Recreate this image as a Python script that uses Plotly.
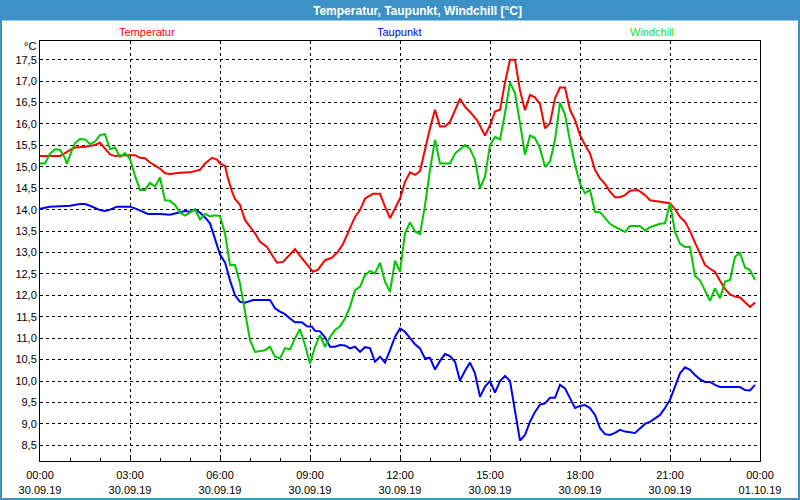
import plotly.graph_objects as go

# ---- data (time in minutes after 30.09.19 00:00) ----
temp_min = [0, 20, 40, 60, 70, 90, 110, 120, 130, 140,
            150, 170, 190, 200, 210, 220, 240, 250, 260, 280,
            300, 320, 330, 344, 354, 360, 370, 376, 384, 390,
            400, 410, 420, 430, 440, 454, 464, 474, 486, 500,
            510, 520, 530, 546, 556, 570, 584, 596, 606, 616,
            630, 640, 650, 666, 680, 690, 700, 720, 730, 740,
            750, 760, 770, 780, 790, 800, 810, 820, 840, 850,
            860, 874, 890, 900, 910, 920, 930, 940, 950, 960,
            970, 980, 990, 1000, 1010, 1020, 1030, 1040, 1050, 1060,
            1070, 1080, 1090, 1100, 1110, 1120, 1130, 1140, 1150, 1160,
            1170, 1180, 1196, 1210, 1220, 1240, 1260, 1270, 1280, 1290,
            1300, 1310, 1320, 1330, 1340, 1350, 1360, 1370, 1380, 1390,
            1400, 1410, 1420, 1430]
temperatur = [15.25, 15.25, 15.25, 15.39, 15.45, 15.47, 15.51, 15.56, 15.43, 15.29,
              15.25, 15.27, 15.27, 15.21, 15.20, 15.10, 14.96, 14.85, 14.83, 14.86,
              14.87, 14.93, 15.08, 15.21, 15.17, 15.08, 15.02, 14.73, 14.42, 14.25,
              14.11, 13.76, 13.60, 13.45, 13.25, 13.13, 12.94, 12.76, 12.78, 12.96,
              13.08, 12.92, 12.78, 12.55, 12.60, 12.82, 12.88, 13.02, 13.20, 13.45,
              13.83, 13.99, 14.26, 14.37, 14.37, 14.07, 13.80, 14.26, 14.65, 14.87,
              14.81, 14.90, 15.42, 15.90, 16.33, 15.94, 15.94, 16.05, 16.59, 16.40,
              16.28, 16.09, 15.73, 15.97, 16.29, 16.33, 16.97, 17.50, 17.50, 16.78,
              16.32, 16.68, 16.62, 16.46, 15.90, 16.02, 16.60, 16.85, 16.85, 16.33,
              16.09, 15.74, 15.51, 15.31, 14.93, 14.73, 14.60, 14.42, 14.29, 14.29,
              14.34, 14.44, 14.46, 14.34, 14.22, 14.19, 14.15, 14.01, 13.83, 13.72,
              13.50, 13.23, 12.96, 12.71, 12.62, 12.55, 12.34, 12.15, 12.02, 11.97,
              11.95, 11.83, 11.73, 11.83]

taup_min = [0, 20, 40, 60, 80, 90, 100, 120, 130, 140,
            154, 180, 190, 200, 216, 240, 260, 280, 290, 300,
            310, 320, 330, 340, 350, 360, 370, 380, 390, 400,
            410, 426, 460, 470, 480, 490, 500, 510, 524, 534,
            544, 550, 560, 570, 580, 590, 600, 610, 620, 630,
            640, 650, 660, 670, 680, 690, 700, 710, 720, 730,
            740, 750, 760, 770, 780, 790, 800, 810, 820, 830,
            840, 850, 860, 870, 880, 890, 900, 910, 920, 930,
            940, 946, 954, 960, 970, 980, 990, 1000, 1010, 1020,
            1030, 1040, 1050, 1060, 1070, 1080, 1090, 1100, 1110, 1120,
            1130, 1140, 1150, 1160, 1170, 1190, 1200, 1210, 1220, 1230,
            1240, 1250, 1260, 1270, 1280, 1290, 1300, 1310, 1320, 1330,
            1340, 1350, 1360, 1400, 1410, 1420, 1430]
taupunkt = [14.02, 14.07, 14.08, 14.09, 14.13, 14.13, 14.09, 13.99, 13.97, 14.00,
            14.07, 14.07, 14.03, 13.98, 13.90, 13.90, 13.88, 13.94, 13.97, 13.95,
            14.00, 13.93, 13.82, 13.68, 13.33, 12.95, 12.77, 12.35, 12.00, 11.85,
            11.83, 11.89, 11.89, 11.70, 11.62, 11.56, 11.46, 11.37, 11.37, 11.28,
            11.27, 11.17, 11.16, 11.02, 10.80, 10.80, 10.84, 10.83, 10.76, 10.80,
            10.68, 10.79, 10.77, 10.45, 10.57, 10.43, 10.72, 11.03, 11.23, 11.15,
            11.00, 10.86, 10.76, 10.53, 10.54, 10.27, 10.47, 10.63, 10.58, 10.45,
            10.01, 10.24, 10.43, 10.18, 9.63, 9.87, 10.00, 9.73, 10.00, 10.12,
            10.00, 9.56, 9.01, 8.61, 8.74, 9.05, 9.28, 9.45, 9.48, 9.61,
            9.61, 9.91, 9.83, 9.60, 9.37, 9.42, 9.44, 9.37, 9.21, 8.90,
            8.76, 8.74, 8.79, 8.86, 8.82, 8.79, 8.90, 9.00, 9.05, 9.13,
            9.21, 9.37, 9.56, 9.87, 10.18, 10.32, 10.26, 10.14, 10.04, 9.98,
            9.98, 9.91, 9.86, 9.86, 9.79, 9.78, 9.91]

wind_min = [0, 10, 20, 30, 40, 50, 54, 60, 70, 80,
            90, 100, 110, 120, 130, 140, 150, 160, 170, 180,
            190, 200, 210, 220, 230, 240, 250, 260, 270, 280,
            290, 300, 310, 320, 330, 340, 350, 360, 370, 380,
            390, 400, 410, 420, 430, 440, 450, 460, 470, 480,
            490, 500, 510, 520, 530, 540, 550, 560, 570, 580,
            590, 600, 610, 620, 630, 640, 650, 660, 670, 680,
            690, 700, 710, 720, 730, 740, 750, 760, 770, 780,
            790, 800, 820, 830, 840, 850, 860, 870, 880, 890,
            900, 910, 920, 930, 940, 950, 960, 970, 980, 990,
            1000, 1010, 1020, 1030, 1040, 1050, 1060, 1070, 1080, 1090,
            1100, 1110, 1120, 1130, 1140, 1150, 1160, 1170, 1180, 1200,
            1210, 1220, 1240, 1250, 1260, 1270, 1280, 1290, 1300, 1310,
            1320, 1330, 1340, 1350, 1360, 1370, 1380, 1390, 1400, 1410,
            1420, 1430]
windchill = [15.08, 15.08, 15.31, 15.41, 15.40, 15.20, 15.07, 15.27, 15.55, 15.65,
             15.64, 15.53, 15.59, 15.74, 15.76, 15.41, 15.45, 15.23, 15.32, 15.18,
             14.79, 14.46, 14.46, 14.63, 14.54, 14.75, 14.22, 14.21, 14.11, 13.93,
             13.86, 13.94, 14.01, 13.77, 13.90, 13.84, 13.87, 13.85, 13.45, 12.71,
             12.71, 12.28, 11.58, 10.96, 10.68, 10.70, 10.72, 10.80, 10.57, 10.53,
             10.77, 10.74, 11.00, 11.21, 10.84, 10.41, 10.80, 11.07, 10.80, 11.03,
             11.19, 11.28, 11.46, 11.73, 12.12, 12.20, 12.47, 12.57, 12.51, 12.76,
             12.32, 12.08, 12.81, 12.55, 13.45, 13.70, 13.49, 13.43, 14.10, 14.93,
             15.63, 15.08, 15.08, 15.31, 15.41, 15.51, 15.42, 15.16, 14.50, 14.77,
             15.50, 15.70, 15.64, 16.25, 16.97, 16.72, 16.02, 15.28, 15.73, 15.67,
             15.43, 15.00, 15.12, 15.63, 16.50, 16.22, 15.60, 15.05, 14.61, 14.38,
             14.46, 13.95, 13.94, 13.80, 13.67, 13.60, 13.54, 13.48, 13.62, 13.62,
             13.51, 13.59, 13.67, 13.68, 14.15, 13.48, 13.20, 13.13, 13.13, 12.45,
             12.35, 12.10, 11.87, 12.16, 11.93, 12.32, 12.36, 12.90, 12.99, 12.65,
             12.59, 12.36]

x_ticks = [0, 3, 6, 9, 12, 15, 18, 21, 24]
x_labels = ["00:00<br>30.09.19", "03:00<br>30.09.19", "06:00<br>30.09.19",
            "09:00<br>30.09.19", "12:00<br>30.09.19", "15:00<br>30.09.19",
            "18:00<br>30.09.19", "21:00<br>30.09.19", "00:00<br>01.10.19"]
y_ticks = [8.5, 9.0, 9.5, 10.0, 10.5, 11.0, 11.5, 12.0, 12.5, 13.0,
           13.5, 14.0, 14.5, 15.0, 15.5, 16.0, 16.5, 17.0, 17.5]
y_labels = [f"{v:.1f}".replace(".", ",") for v in y_ticks]

series_names = ["Temperatur", "Taupunkt", "Windchill"]
line_colors = ["#FF0000", "#0000FF", "#00C800"]
text_colors = ["#FF0000", "#0000FF", "#22DD22"]

FONT = "Liberation Sans"
BAR = "#3C92C6"

fig = go.Figure()
for name, tm, vals, col in zip(series_names,
                               [temp_min, taup_min, wind_min],
                               [temperatur, taupunkt, windchill],
                               line_colors):
    fig.add_trace(go.Scatter(x=[m / 60 for m in tm], y=vals, mode="lines",
                             name=name, line=dict(color=col, width=2),
                             showlegend=False))

# pixel -> paper helpers for decorations (plot area 40..760 x 41..461)
def px(p):
    return (p - 40) / 720.0

def py(q):
    return (461 - q) / 420.0

fig.update_layout(
    width=800, height=500,
    margin=dict(l=40, r=40, t=41, b=39),
    paper_bgcolor="white", plot_bgcolor="white",
    font=dict(family=FONT, size=11, color="black"),
    xaxis=dict(range=[0, 24], tickmode="array", tickvals=x_ticks, ticktext=x_labels,
               showgrid=True, gridcolor="black", gridwidth=1, griddash="3px,3px",
               showline=True, linecolor="black", linewidth=1, mirror=True,
               ticks="inside", ticklen=3, tickcolor="black",
               minor=dict(tickmode="linear", dtick=1, ticks="inside", ticklen=3,
                          tickcolor="black", showgrid=False),
               zeroline=False, automargin=False,
               tickfont=dict(family=FONT, size=11, color="black"),
               ticklabelstandoff=4),
    yaxis=dict(range=[8.134, 17.936], tickmode="array", tickvals=y_ticks, ticktext=y_labels,
               showgrid=True, gridcolor="black", gridwidth=1, griddash="3px,3px",
               showline=True, linecolor="black", linewidth=1, mirror=True,
               ticks="", zeroline=False, automargin=False,
               tickfont=dict(family=FONT, size=11, color="black")),
    shapes=[
        dict(type="rect", xref="paper", yref="paper", x0=px(0), x1=px(800),
             y0=py(20.5), y1=py(0), fillcolor=BAR, line=dict(width=0), layer="above"),
        dict(type="rect", xref="paper", yref="paper", x0=px(1), x1=px(799),
             y0=py(499), y1=py(1), fillcolor="rgba(0,0,0,0)",
             line=dict(color=BAR, width=2), layer="above"),
    ],
)

annotations = [
    dict(text="<b>Temperatur, Taupunkt, Windchill [°C]</b>", x=px(417), y=py(10.5),
         font=dict(family=FONT, size=12, color="white")),
    dict(text="°C", x=px(30), y=py(46), font=dict(family=FONT, size=11, color="black")),
]
for name, xc, col in zip(series_names, [147, 399, 652], text_colors):
    annotations.append(dict(text=name, x=px(xc), y=py(32),
                            font=dict(family=FONT, size=11, color=col)))
for a in annotations:
    a.update(xref="paper", yref="paper", showarrow=False, xanchor="center", yanchor="middle")
fig.update_layout(annotations=annotations)

fig.write_html("out.html")
